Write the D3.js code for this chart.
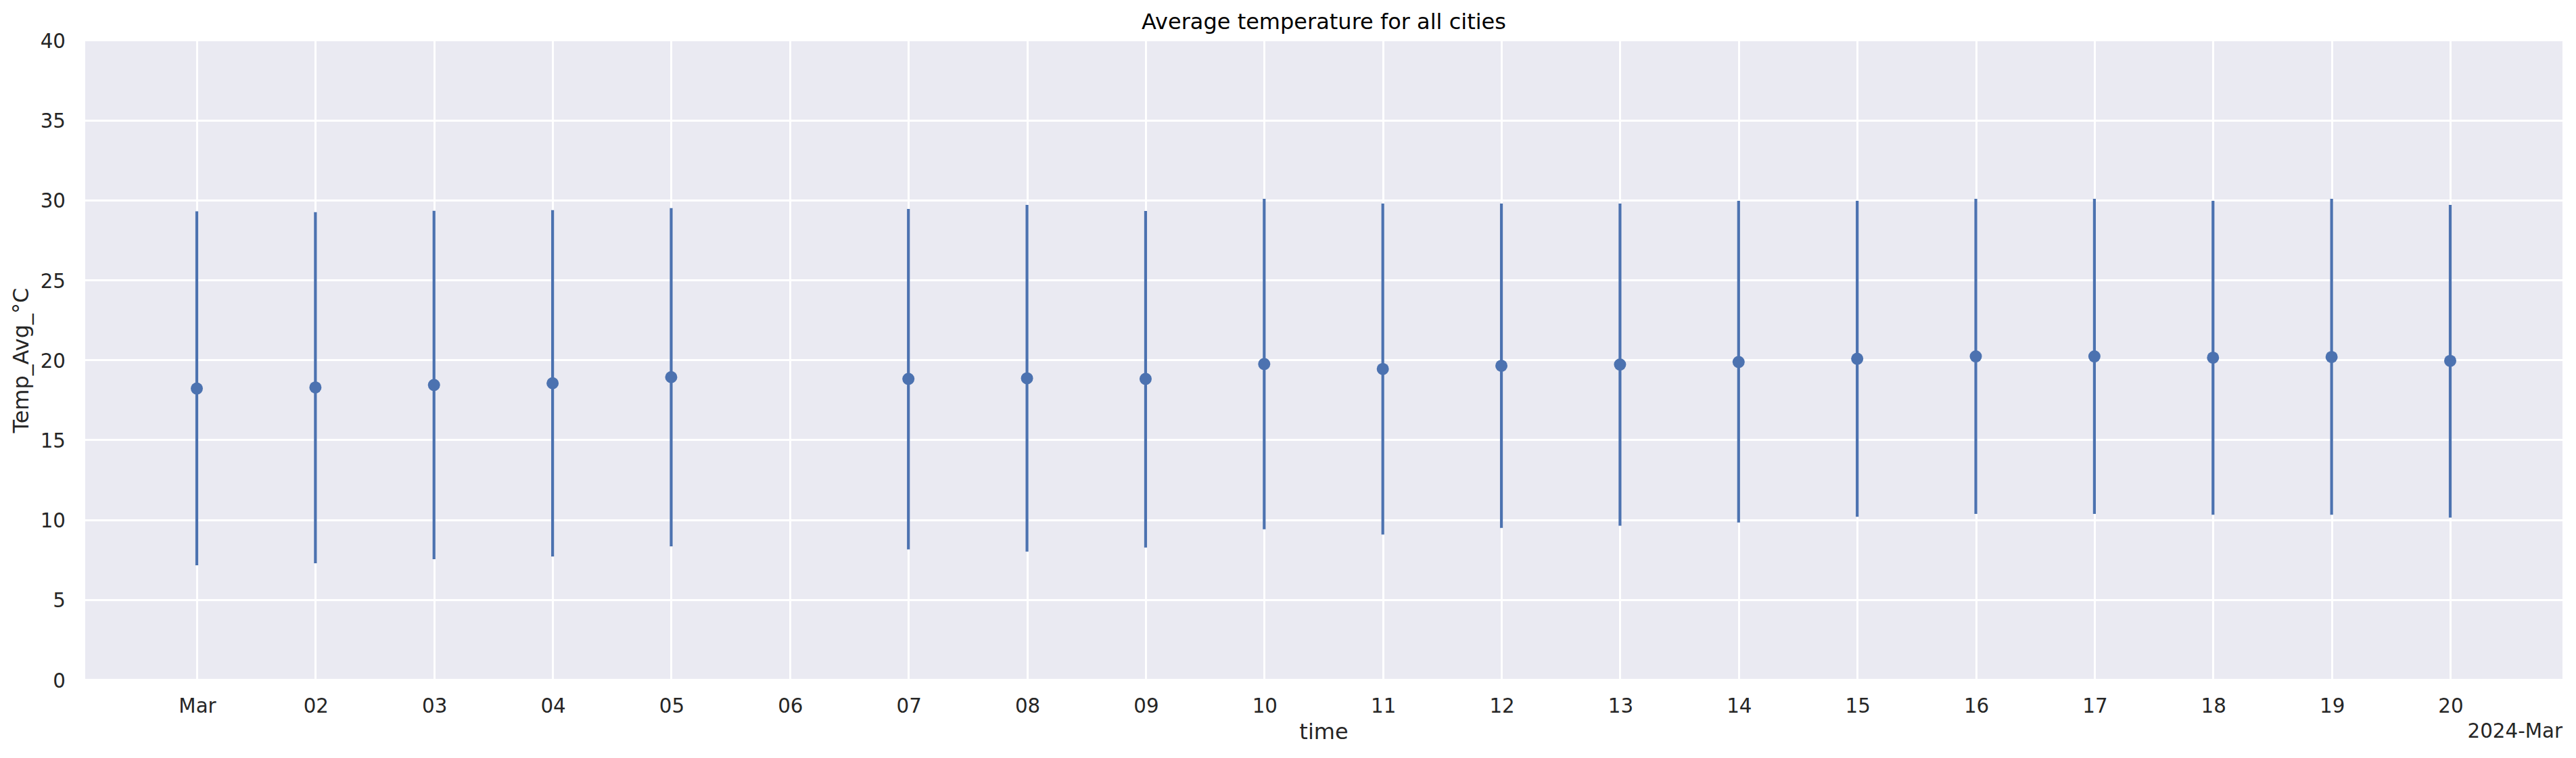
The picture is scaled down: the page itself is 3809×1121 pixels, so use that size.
<!DOCTYPE html>
<html>
<head>
<meta charset="utf-8">
<script src="https://cdn.jsdelivr.net/npm/d3@7/dist/d3.min.js"></script>
<style>
html,body{margin:0;padding:0;background:#fff}
svg{display:block}
text{font-family:"DejaVu Sans",sans-serif;fill:#262626}
</style>
</head>
<body>
<div id="chart"></div>
<script>
const days  = [1,2,3,4,5,7,8,9,10,11,12,13,14,15,16,17,18,19,20];
const means = [18.23,18.30,18.45,18.56,18.94,18.83,18.87,18.83,19.76,19.45,19.65,19.73,19.89,20.09,20.24,20.24,20.16,20.20,19.96];
const highs = [29.31,29.26,29.35,29.39,29.52,29.46,29.72,29.34,30.10,29.80,29.80,29.80,29.97,29.97,30.10,30.10,29.97,30.10,29.72];
const lows  = [7.17,7.30,7.55,7.72,8.35,8.16,8.03,8.28,9.42,9.09,9.51,9.64,9.85,10.20,10.38,10.38,10.33,10.33,10.15];
const tickDays   = [1,2,3,4,5,6,7,8,9,10,11,12,13,14,15,16,17,18,19,20];
const tickLabels = ["Mar","02","03","04","05","06","07","08","09","10","11","12","13","14","15","16","17","18","19","20"];
const yTicks = [0,5,10,15,20,25,30,35,40];
const titleText = "Average temperature for all cities";
const xTitle = "time";
const yTitle = "Temp_Avg_°C";
const offsetText = "2024-Mar";

const W = 3809, H = 1121;
const plot = {left:126, right:3789, top:61, bottom:1005};
const date = d => new Date(Date.UTC(2024, 2, d));
const x = d3.scaleUtc().domain([date(1), date(20)]).range([291.5, 3623.5]);
const y = d3.scaleLinear().domain([0, 40]).range([1005.5, 59.9]);

const svg = d3.select("#chart").append("svg").attr("width", W).attr("height", H);
svg.append("rect").attr("width", W).attr("height", H).attr("fill", "#fff");
svg.append("rect").attr("x", plot.left).attr("y", plot.top)
  .attr("width", plot.right - plot.left).attr("height", plot.bottom - plot.top).attr("fill", "#eaeaf2");

svg.append("clipPath").attr("id", "plot-clip").append("rect")
  .attr("x", plot.left).attr("y", plot.top)
  .attr("width", plot.right - plot.left).attr("height", plot.bottom - plot.top);

const grid = svg.append("g").attr("clip-path", "url(#plot-clip)")
  .attr("stroke", "#fff").attr("stroke-width", 3).attr("shape-rendering", "crispEdges");
grid.selectAll("line.v").data(tickDays).join("line").attr("class", "v")
  .attr("x1", d => x(date(d))).attr("x2", d => x(date(d)))
  .attr("y1", plot.top).attr("y2", plot.bottom);
grid.selectAll("line.h").data(yTicks).join("line").attr("class", "h")
  .attr("x1", plot.left).attr("x2", plot.right)
  .attr("y1", d => y(d)).attr("y2", d => y(d));

const xAxis = d3.axisBottom(x)
  .tickValues(tickDays.map(date))
  .tickFormat((d, i) => tickLabels[i])
  .tickSize(0).tickPadding(0);
const gx = svg.append("g").attr("transform", `translate(0,${plot.bottom})`).call(xAxis);
gx.select(".domain").remove();
gx.selectAll("text").attr("dy", null).attr("y", 49).attr("font-size", 29.3)
  .style("font-family", '"DejaVu Sans",sans-serif').style("fill", "#262626");

const yAxis = d3.axisLeft(y).tickValues(yTicks).tickSize(0).tickPadding(0);
const gy = svg.append("g").attr("transform", `translate(${plot.left},0)`).call(yAxis);
gy.select(".domain").remove();
gy.selectAll("text").attr("x", -29).attr("dy", "0.36em").attr("font-size", 29.3)
  .style("font-family", '"DejaVu Sans",sans-serif').style("fill", "#262626");

const rows = days.map((d, i) => ({d, mean: means[i], low: lows[i], high: highs[i]}));
const marks = svg.append("g");
marks.selectAll("line").data(rows).join("line")
  .attr("x1", r => x(date(r.d)) - 0.5).attr("x2", r => x(date(r.d)) - 0.5)
  .attr("y1", r => y(r.low)).attr("y2", r => y(r.high))
  .attr("stroke", "#4c72b0").attr("stroke-width", 4.2);
marks.selectAll("circle").data(rows).join("circle")
  .attr("cx", r => x(date(r.d)) - 0.5).attr("cy", r => y(r.mean)).attr("r", 9)
  .attr("fill", "#4c72b0");

const mid = (plot.left + plot.right) / 2;
svg.append("text").attr("x", mid).attr("y", 43).attr("text-anchor", "middle")
  .attr("font-size", 32).style("fill", "#000").text(titleText);
svg.append("text").attr("x", mid).attr("y", 1093).attr("text-anchor", "middle")
  .attr("font-size", 32).text(xTitle);
svg.append("text").attr("transform", `translate(42,${(plot.top + plot.bottom) / 2}) rotate(-90)`)
  .attr("text-anchor", "middle").attr("font-size", 32).text(yTitle);
svg.append("text").attr("x", plot.right).attr("y", 1091).attr("text-anchor", "end")
  .attr("font-size", 29.3).text(offsetText);
</script>
</body>
</html>
